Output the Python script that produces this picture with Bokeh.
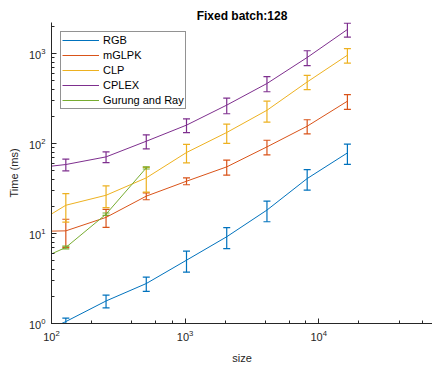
from bokeh.plotting import figure
from bokeh.models import ColumnDataSource, Whisker, Range1d, Legend, LegendItem, TeeHead, LogTicker
from bokeh.embed import file_html
from bokeh.resources import INLINE

# ---------------- data ----------------
sizes = [64, 128, 256, 512, 1024, 2048, 4096, 8192, 16384]

rgb_mean = [0.65, 1.05, 1.78, 2.78, 5.05, 9.2, 18.2, 40.8, 78.6]
rgb_err = [0.05, 0.1, 0.29, 0.5, 1.33, 2.4, 4.7, 10.5, 20.0]

mglpk_mean = [10.5, 10.7, 15.1, 26.0, 38.1, 55.0, 91.7, 155.7, 295.0]
mglpk_err = [3.5, 3.7, 3.4, 2.3, 3.3, 10.5, 17.0, 28.0, 55.0]

clp_mean = [11.0, 20.6, 26.6, 41.5, 79.4, 132.5, 234.0, 483.0, 957.0]
clp_err = [5.0, 7.2, 7.2, 12.7, 18.6, 32.0, 61.0, 87.0, 175.0]

cplex_mean = [52.0, 58.4, 71.0, 106.0, 160.0, 267.0, 464.0, 903.0, 1848.0]
cplex_err = [8.0, 8.7, 9.6, 19.0, 28.0, 53.0, 88.0, 170.0, 330.0]

gr_sizes = [64, 128, 256, 512]
gr_mean = [4.4, 7.0, 16.4, 53.6]
gr_err = [0.2, 0.25, 0.5, 1.5]

series_names = ["RGB", "mGLPK", "CLP", "CPLEX", "Gurung and Ray"]
series_colors = ["#0072BD", "#D95319", "#EDB120", "#7E2F8E", "#77AC30"]

title_text = "Fixed batch:128"
x_label = "size"
y_label = "Time (ms)"

# ---------------- figure ----------------
FONT = "Liberation Sans"
AX = "#262626"

p = figure(width=432, height=367, x_axis_type="log", y_axis_type="log",
           x_range=Range1d(100, 71000), y_range=Range1d(1, 2210),
           output_backend="svg", toolbar_location=None,
           min_border_left=51, min_border_right=0, min_border_top=22, min_border_bottom=44)

p.title.text = title_text
p.title.text_font = FONT
p.title.text_font_size = "12px"
p.title.text_font_style = "bold"
p.title.text_color = "#000000"
p.title.align = "center"
p.title.standoff = 0
p.title.offset = 0

p.outline_line_color = None
p.xgrid.visible = False
p.ygrid.visible = False
p.background_fill_color = "white"
p.border_fill_color = "white"

for ax in (p.xaxis[0], p.yaxis[0]):
    ax.axis_line_color = AX
    ax.axis_line_width = 1
    ax.major_tick_line_color = AX
    ax.minor_tick_line_color = AX
    ax.major_tick_in = 5
    ax.major_tick_out = 0
    ax.minor_tick_in = 3
    ax.minor_tick_out = 0
    ax.major_label_text_font = FONT
    ax.major_label_text_font_size = "11px"
    ax.major_label_text_color = AX
    ax.axis_label_text_font = FONT
    ax.axis_label_text_font_size = "11px"
    ax.axis_label_text_font_style = "normal"
    ax.axis_label_text_color = AX

p.xaxis.axis_label = x_label
p.yaxis.axis_label = y_label
p.xaxis.major_label_standoff = 6
p.yaxis.major_label_standoff = 6
p.xaxis.axis_label_standoff = 8
p.yaxis.axis_label_standoff = 6
p.xaxis.ticker = LogTicker(desired_num_ticks=3)

all_means = [rgb_mean, mglpk_mean, clp_mean, cplex_mean, gr_mean]
all_errs = [rgb_err, mglpk_err, clp_err, cplex_err, gr_err]
all_x = [sizes, sizes, sizes, sizes, gr_sizes]

items = []
for name, color, xs, m, e in zip(series_names, series_colors, all_x, all_means, all_errs):
    src = ColumnDataSource(dict(x=xs, y=m))
    r = p.line("x", "y", source=src, line_color=color, line_width=1)
    keep = [i for i, xv in enumerate(xs) if xv >= 100]
    wsrc = ColumnDataSource(dict(
        x=[xs[i] for i in keep],
        upper=[m[i] + e[i] for i in keep],
        lower=[max(m[i] - e[i], 1.0) for i in keep]))
    w = Whisker(base="x", upper="upper", lower="lower", source=wsrc, dimension="height",
                line_color=color, line_width=1.2,
                upper_head=TeeHead(size=7, line_color=color, line_width=1.2),
                lower_head=TeeHead(size=7, line_color=color, line_width=1.2))
    p.add_layout(w)
    items.append(LegendItem(label=name, renderers=[r]))

legend = Legend(items=items, location="top_left", margin=9, padding=1, spacing=1,
                glyph_width=37, glyph_height=14, label_height=14, label_standoff=4,
                label_text_font=FONT, label_text_font_size="11px", label_text_color="#000000",
                border_line_color=AX, border_line_width=1, background_fill_color="white",
                background_fill_alpha=1.0)
p.add_layout(legend)

open("out.html", "w").write(file_html(p, INLINE))
